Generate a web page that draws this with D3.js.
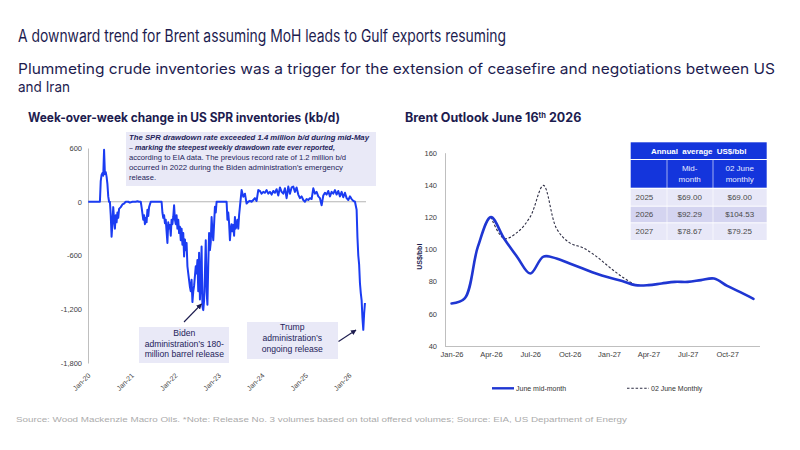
<!DOCTYPE html>
<html><head><meta charset="utf-8">
<script src="https://cdn.jsdelivr.net/npm/d3@7"></script>
<style>body{margin:0;background:#fff} svg{display:block}</style>
</head><body>
<svg id="c" width="800" height="450"></svg>
<script>
// ---------- DATA ----------
const sprDates = [
"2020-01-03","2020-04-10","2020-04-17","2020-04-24","2020-05-01","2020-05-08","2020-05-15","2020-05-22","2020-05-29","2020-06-05",
"2020-06-12","2020-06-19","2020-06-26","2020-07-03","2020-07-10","2020-07-17","2020-07-24","2020-07-31","2020-08-07","2020-08-14",
"2020-08-21","2020-08-28","2020-09-04","2020-09-11","2020-09-18","2020-10-02","2020-10-16","2020-10-30","2020-11-13","2020-12-04",
"2020-12-18","2021-01-08","2021-02-05","2021-02-19","2021-03-05","2021-03-19","2021-03-26","2021-04-02","2021-04-09","2021-04-16",
"2021-04-23","2021-04-30","2021-05-07","2021-05-14","2021-05-21","2021-05-28","2021-06-11","2021-09-03","2021-09-10","2021-09-17",
"2021-09-24","2021-10-01","2021-10-08","2021-10-15","2021-10-22","2021-10-29","2021-11-05","2021-11-12","2021-11-19","2021-11-26",
"2021-12-03","2021-12-10","2021-12-17","2021-12-24","2021-12-31","2022-01-07","2022-01-14","2022-01-21","2022-01-28","2022-02-04",
"2022-02-11","2022-02-18","2022-02-25","2022-03-04","2022-03-11","2022-03-18","2022-03-25","2022-04-01","2022-04-08","2022-04-15",
"2022-04-22","2022-05-06","2022-05-13","2022-05-20","2022-05-27","2022-06-03","2022-06-10","2022-06-17","2022-06-24","2022-07-01",
"2022-07-08","2022-07-15","2022-07-22","2022-07-29","2022-08-05","2022-08-12","2022-08-19","2022-08-26","2022-09-02","2022-09-09",
"2022-09-16","2022-09-23","2022-09-30","2022-10-07","2022-10-14","2022-10-21","2022-10-28","2022-11-04","2022-11-11","2022-11-18",
"2022-11-25","2022-12-02","2022-12-09","2022-12-16","2023-03-10","2023-03-17","2023-03-24","2023-03-31","2023-04-07","2023-04-14",
"2023-04-21","2023-04-28","2023-05-05","2023-05-12","2023-05-19","2023-05-26","2023-06-02","2023-06-09","2023-06-16","2023-06-23",
"2023-06-30","2023-07-14","2023-07-28","2023-08-11","2023-08-25","2023-09-08","2023-09-22","2023-10-06","2023-10-20","2023-11-03",
"2023-11-17","2023-12-01","2023-12-15","2023-12-29","2024-01-12","2024-01-26","2024-02-09","2024-02-23","2024-03-08","2024-03-22",
"2024-04-05","2024-04-19","2024-05-03","2024-05-17","2024-05-31","2024-06-14","2024-06-28","2024-07-12","2024-07-26","2024-08-09",
"2024-08-23","2024-09-06","2024-09-20","2024-10-04","2024-10-18","2024-11-01","2024-11-15","2024-11-29","2024-12-13","2024-12-27",
"2025-01-10","2025-01-24","2025-02-07","2025-02-21","2025-03-07","2025-03-21","2025-04-04","2025-04-18","2025-05-02","2025-05-16",
"2025-05-30","2025-06-13","2025-06-27","2025-07-11","2025-07-25","2025-08-08","2025-08-22","2025-09-05","2025-09-19","2025-10-03",
"2025-10-17","2025-10-31","2025-11-14","2025-11-28","2025-12-12","2025-12-26","2026-01-09","2026-01-23","2026-02-06","2026-02-20",
"2026-03-06","2026-03-13","2026-03-20","2026-03-27","2026-04-03","2026-04-10","2026-04-17","2026-04-24","2026-05-01","2026-05-08",
"2026-05-15"];
const sprValues = [
0,0,230,300,320,290,580,310,330,280,
200,60,0,0,-150,-390,-250,-60,-200,-300,
-150,-230,-120,-180,-80,-60,-30,-20,0,0,
-10,0,0,5,0,0,-60,-130,-200,-150,
-250,-180,-230,-90,-160,-60,0,0,0,-120,
-180,-150,-240,-200,-330,-460,-230,-300,-260,-380,
-200,-250,-170,-40,-200,-250,-150,-300,-200,-350,
-280,-430,-300,-480,-350,-610,-420,-540,-460,-720,
-800,-950,-1000,-870,-1120,-1000,-940,-830,-720,-800,
-650,-1000,-570,-1090,-900,-500,-1170,-1210,-1100,-800,
-430,-1000,-1150,-700,-350,-540,-450,-170,-330,-430,
-250,-55,-120,0,0,-200,-120,-240,-430,-300,
-250,-330,-260,-380,-170,-300,-260,-200,-300,-150,
-55,130,55,90,-20,0,10,0,20,40,
10,130,120,90,110,100,130,90,110,80,
120,100,140,70,160,110,90,150,40,170,
90,160,170,110,160,80,40,60,20,0,
30,20,40,30,150,90,110,60,40,-40,
70,100,80,120,60,110,90,130,80,120,
60,110,50,100,40,20,60,30,10,0,
-90,-400,-600,-700,-910,-1020,-1100,-1300,-1430,-1250,
-1130];
const sprTicks = [600, 0, -600, -1200, -1800];
const sprYearTicks = ["2020-01-01","2021-01-01","2022-01-01","2023-01-01","2024-01-01","2025-01-01","2026-01-01"];

const brentMonths = ["Jan-26","Feb-26","Mar-26","Apr-26","May-26","Jun-26","Jul-26","Aug-26","Sep-26","Oct-26","Nov-26","Dec-26",
                     "Jan-27","Feb-27","Mar-27","Apr-27","May-27","Jun-27","Jul-27","Aug-27","Sep-27","Oct-27","Nov-27","Dec-27"];
const brentMidMonth = [66.4,69.5,101.5,120,106.7,95.3,85,95.5,94.3,91.2,88.1,85,82.5,80.4,77.8,77.8,78.8,79.8,79.8,80.9,81.9,77.3,73.4,69.3];
const brentJune02   = [null,null,null,120,106.7,110.5,120.3,139.7,112.9,104,101,95.8,89.1,82.9,77.8,null,null,null,null,null,null,null,null,null];
const brentTicks = [40, 60, 80, 100, 120, 140, 160];
const tableYears = ["2025","2026","2027"];
const tableMid   = ["$69.00","$92.29","$78.67"];
const tableJune  = ["$69.00","$104.53","$79.25"];

// ---------- DRAW ----------
const svg = d3.select("#c");
const navy = "#1d1c4f";
const axisFont = "'Liberation Sans', Arial, sans-serif";
const headFont = "Inter, 'Noto Sans', sans-serif";

svg.append("rect").attr("width",800).attr("height",450).attr("fill","#fff");

// Titles
svg.append("text").attr("x",18).attr("y",42).attr("font-family",headFont).attr("font-size",17)
  .attr("fill",navy).attr("textLength",488).attr("lengthAdjust","spacingAndGlyphs")
  .text("A downward trend for Brent assuming MoH leads to Gulf exports resuming");
svg.append("text").attr("x",18).attr("y",73.5).attr("font-family",headFont).attr("font-size",14.6)
  .attr("fill",navy).attr("textLength",757).attr("lengthAdjust","spacingAndGlyphs")
  .text("Plummeting crude inventories was a trigger for the extension of ceasefire and negotiations between US");
svg.append("text").attr("x",18).attr("y",91.5).attr("font-family",headFont).attr("font-size",14.6)
  .attr("fill",navy).attr("textLength",52).attr("lengthAdjust","spacingAndGlyphs")
  .text("and Iran");

// ----- LEFT CHART -----
svg.append("text").attr("x",28).attr("y",122).attr("font-family",headFont).attr("font-weight",700)
  .attr("font-size",12.5).attr("fill",navy).attr("textLength",312).attr("lengthAdjust","spacingAndGlyphs")
  .text("Week-over-week change in US SPR inventories (kb/d)");

const xL = d3.scaleTime().domain([new Date(2020,0,1), new Date(2026,0,1)]).range([88,349]);
const yL = d3.scaleLinear().domain([-1800,600]).range([363,148]);
const fmtK = d => (d < 0 ? "-" : "") + d3.format(",")(Math.abs(d));

const gyL = svg.append("g").attr("transform","translate(88,0)")
  .call(d3.axisLeft(yL).tickValues(sprTicks).tickSize(0).tickPadding(6).tickFormat(fmtK));
gyL.select(".domain").attr("stroke","#bfbfbf");
gyL.selectAll("text").attr("font-family",axisFont).attr("font-size",7.5).attr("fill","#404040");

svg.append("line").attr("x1",88).attr("x2",366).attr("y1",yL(0)).attr("y2",yL(0))
  .attr("stroke","#b5b5b5").attr("stroke-width",1);

const fmtMY = d3.timeFormat("%b-%y");
svg.append("g").selectAll("text").data(sprYearTicks.map(d => new Date(d + "T00:00:00"))).join("text")
  .attr("transform", d => `translate(${xL(d)+3},376) rotate(-45)`)
  .attr("text-anchor","end").attr("font-family",axisFont).attr("font-size",7).attr("fill","#404040")
  .text(d => fmtMY(d));

// annotation box top
svg.append("rect").attr("x",126).attr("y",132).attr("width",250).attr("height",54).attr("fill","#e9e9f7");

const sprData = sprDates.map((d,i) => ({date:new Date(d+"T00:00:00"), v:sprValues[i]}));
svg.append("path").datum(sprData)
  .attr("d", d3.line().x(d => xL(d.date)).y(d => yL(d.v)))
  .attr("fill","none").attr("stroke","#1b3cf2").attr("stroke-width",2).attr("stroke-linejoin","round");

const noteLines = [
  {t:"The SPR drawdown rate exceeded 1.4 million b/d during mid-May", b:true, w:240},
  {t:"\u2013 marking the steepest weekly drawdown rate ever reported,", b:true, w:206},
  {t:"according to EIA data. The previous record rate of 1.2 million b/d", b:false, w:217},
  {t:"occurred in 2022 during the Biden administration\u2019s  emergency", b:false, w:214},
  {t:"release.", b:false, w:27}
];
noteLines.forEach((l,i) => {
  svg.append("text").attr("x",129).attr("y",140 + i*10).attr("font-family",axisFont)
    .attr("font-size",7.6).attr("fill","#24235a")
    .attr("font-weight", l.b ? 700 : 400).attr("font-style", l.b ? "italic" : "normal")
    .attr("textLength", l.w).attr("lengthAdjust","spacingAndGlyphs").text(l.t);
});

// arrows
const defs = svg.append("defs");
defs.append("marker").attr("id","ah").attr("viewBox","0 0 10 10").attr("refX",9).attr("refY",5)
  .attr("markerWidth",5).attr("markerHeight",5).attr("orient","auto")
  .append("path").attr("d","M0,0 L10,5 L0,10 z").attr("fill","#1d1c4f");

// Biden box
svg.append("rect").attr("x",139).attr("y",327).attr("width",90).attr("height",36).attr("fill","#e9e9f7");
["Biden","administration\u2019s  180-","million barrel release"].forEach((t,i) => {
  svg.append("text").attr("x",184.3).attr("y",336 + i*10.7).attr("text-anchor","middle")
    .attr("font-family",axisFont).attr("font-size",8.6).attr("fill","#24235a").text(t);
});
svg.append("line").attr("x1",184).attr("y1",322).attr("x2",201.5).attr("y2",304)
  .attr("stroke","#1d1c4f").attr("stroke-width",1.1).attr("marker-end","url(#ah)");

// Trump box
svg.append("rect").attr("x",247).attr("y",322).attr("width",91).attr("height",37).attr("fill","#e9e9f7");
["Trump","administration\u2019s","ongoing release"].forEach((t,i) => {
  svg.append("text").attr("x",292.3).attr("y",330 + i*11).attr("text-anchor","middle")
    .attr("font-family",axisFont).attr("font-size",8.6).attr("fill","#24235a").text(t);
});
svg.append("line").attr("x1",338.5).attr("y1",341.5).attr("x2",356).attr("y2",330)
  .attr("stroke","#1d1c4f").attr("stroke-width",1.1).attr("marker-end","url(#ah)");

// ----- RIGHT CHART -----
const tR = svg.append("text").attr("x",405).attr("y",122).attr("font-family",headFont).attr("font-weight",700)
  .attr("font-size",12.5).attr("fill",navy);
tR.append("tspan").text("Brent Outlook June 16");
tR.append("tspan").attr("font-size",7.5).attr("dy",-4.5).text("th");
tR.append("tspan").attr("dy",4.5).text(" 2026");

const xR = d3.scalePoint().domain(brentMonths).range([445,760]).padding(0.5);
const yR = d3.scaleLinear().domain([40,160]).range([346,152.7]);

const gyR = svg.append("g").attr("transform","translate(445,0)")
  .call(d3.axisLeft(yR).tickValues(brentTicks).tickSize(0).tickPadding(8));
gyR.select(".domain").attr("stroke","#bfbfbf");
gyR.selectAll("text").attr("font-family",axisFont).attr("font-size",7.5).attr("fill","#404040");

const gxR = svg.append("g").attr("transform","translate(0,346)")
  .call(d3.axisBottom(xR).tickValues(brentMonths.filter((m,i) => i % 3 === 0)).tickSize(0).tickPadding(6));
gxR.select(".domain").attr("stroke","#bfbfbf").attr("d","M445,0.5H760");
gxR.selectAll("text").attr("font-family",axisFont).attr("font-size",7.5).attr("fill","#404040");

svg.append("text").attr("transform","translate(422,256.7) rotate(-90)").attr("text-anchor","middle")
  .attr("font-family",axisFont).attr("font-weight",700).attr("font-size",7).attr("fill",navy).text("US$/bbl");

const curve = d3.curveCatmullRom.alpha(0.5);
const dashedData = brentMonths.map((m,i) => ({m, v:brentJune02[i]}));
svg.append("path").datum(dashedData)
  .attr("d", d3.line().defined(d => d.v != null).x(d => xR(d.m)).y(d => yR(d.v)).curve(curve))
  .attr("fill","none").attr("stroke","#2e2e44").attr("stroke-width",1.1).attr("stroke-dasharray","2.5,1.8");
const solidData = brentMonths.map((m,i) => ({m, v:brentMidMonth[i]}));
svg.append("path").datum(solidData)
  .attr("d", d3.line().x(d => xR(d.m)).y(d => yR(d.v)).curve(curve))
  .attr("fill","none").attr("stroke","#1f36d2").attr("stroke-width",2.6).attr("stroke-linecap","round");

// Table
const blue = "#1435dc";
const colX = [630.7, 666.7, 712.7, 766.7];
svg.append("rect").attr("x",colX[0]).attr("y",142.3).attr("width",colX[3]-colX[0]).attr("height",16.7).attr("fill",blue);
svg.append("text").attr("x",(colX[0]+colX[3])/2).attr("y",153.6).attr("text-anchor","middle")
  .attr("font-family",axisFont).attr("font-weight",700).attr("font-size",8).attr("fill","#fff")
  .attr("word-spacing",2).text("Annual average US$/bbl");
for (let c = 0; c < 3; c++) {
  svg.append("rect").attr("x",colX[c] + (c?0.6:0)).attr("y",160).attr("width",colX[c+1]-colX[c]-(c?0.6:0)).attr("height",27.7).attr("fill",blue);
}
const subHead = [["Mid-","month"],["02 June","monthly"]];
subHead.forEach((lines,k) => {
  lines.forEach((t,j) => {
    svg.append("text").attr("x",(colX[k+1]+colX[k+2])/2).attr("y",171.3 + j*11).attr("text-anchor","middle")
      .attr("font-family",axisFont).attr("font-size",8).attr("fill","#e8ecff").text(t);
  });
});
const rowY = [189, 206.7, 223.3];
const rowH = [16.7, 15.6, 16.7];
const rowFill = ["#e8e8f8","#d4d4f0","#e8e8f8"];
tableYears.forEach((yr,r) => {
  for (let c = 0; c < 3; c++) {
    svg.append("rect").attr("x",colX[c] + (c?0.6:0)).attr("y",rowY[r]).attr("width",colX[c+1]-colX[c]-(c?0.6:0))
      .attr("height",rowH[r]).attr("fill",rowFill[r]);
  }
  const ty = rowY[r] + rowH[r]/2 + 2.8;
  svg.append("text").attr("x",635.5).attr("y",ty).attr("font-family",axisFont).attr("font-size",8).attr("fill","#4a4a4a").text(yr);
  svg.append("text").attr("x",(colX[1]+colX[2])/2).attr("y",ty).attr("text-anchor","middle").attr("font-family",axisFont).attr("font-size",8).attr("fill","#4a4a4a").text(tableMid[r]);
  svg.append("text").attr("x",(colX[2]+colX[3])/2).attr("y",ty).attr("text-anchor","middle").attr("font-family",axisFont).attr("font-size",8).attr("fill","#4a4a4a").text(tableJune[r]);
});

// Legend
svg.append("line").attr("x1",492).attr("x2",514).attr("y1",388.3).attr("y2",388.3).attr("stroke","#1f36d2").attr("stroke-width",2.4);
svg.append("text").attr("x",516).attr("y",390.8).attr("font-family",axisFont).attr("font-size",7).attr("fill","#333").text("June mid-month");
svg.append("line").attr("x1",627).attr("x2",649).attr("y1",388.3).attr("y2",388.3).attr("stroke","#2e2e44").attr("stroke-width",1.1).attr("stroke-dasharray","2.5,1.8");
svg.append("text").attr("x",651).attr("y",390.8).attr("font-family",axisFont).attr("font-size",7).attr("fill","#333").text("02 June Monthly");

// Footer
svg.append("text").attr("x",16).attr("y",422).attr("font-family",axisFont).attr("font-size",7.6).attr("fill","#ababab")
  .attr("textLength",611).attr("lengthAdjust","spacingAndGlyphs")
  .text("Source: Wood Mackenzie Macro Oils. *Note: Release No. 3 volumes based on total offered volumes; Source: EIA, US Department of Energy");
</script>
</body></html>
